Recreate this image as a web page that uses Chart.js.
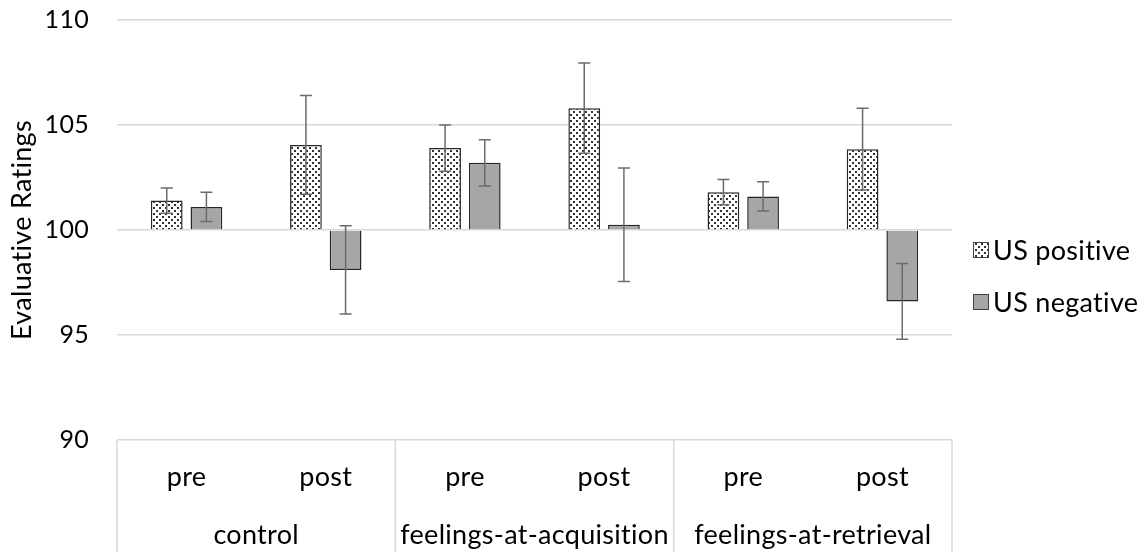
<!DOCTYPE html>
<html>
<head>
<meta charset="utf-8">
<script src="https://cdn.jsdelivr.net/npm/chart.js@4.4.1/dist/chart.umd.min.js"></script>
<style>
  html, body { margin: 0; padding: 0; background: #fff; }
  canvas { display: block; }
</style>
</head>
<body>
<canvas id="ratingsChart" width="1143" height="552"></canvas>
<script>
// Evaluative ratings per condition and phase
var phases = ["pre", "post", "pre", "post", "pre", "post"];
var conditions = ["control", "feelings-at-acquisition", "feelings-at-retrieval"];
var usPositive = [101.4, 104.05, 103.9, 105.8, 101.8, 103.85];
var usNegative = [101.1, 98.1, 103.2, 100.25, 101.6, 96.6];
var errPositive = [0.6, 2.35, 1.1, 2.15, 0.6, 1.95];
var errNegative = [0.7, 2.1, 1.1, 2.7, 0.7, 1.8];
var yTicks = [90, 95, 100, 105, 110];

var gridGrey = "#d9d9d9";
Chart.defaults.font.family = "Lato";
Chart.defaults.font.size = 26;
Chart.defaults.color = "#000";

var canvas = document.getElementById("ratingsChart");
var ctx = canvas.getContext("2d");

// small dotted fill for the positive bars
function dotPattern() {
  var tile = document.createElement("canvas");
  tile.width = 6;
  tile.height = 6;
  var t = tile.getContext("2d");
  t.fillStyle = "#fff";
  t.fillRect(0, 0, 6, 6);
  t.fillStyle = "#333";
  t.fillRect(0, 0, 2, 2);
  t.fillRect(3, 3, 2, 2);
  return ctx.createPattern(tile, "repeat");
}

// slight tracking, also keeps "ti" from turning into a ligature
var textSpacing = {
  id: "textSpacing",
  beforeDraw: function (chart) {
    chart.ctx.letterSpacing = "0.3px";
  }
};

var errorBars = {
  id: "errorBars",
  afterDatasetsDraw: function (chart) {
    var c = chart.ctx;
    var y = chart.scales.y;
    c.save();
    c.strokeStyle = "#6b6b6b";
    c.lineWidth = 1.5;
    chart.data.datasets.forEach(function (ds, di) {
      chart.getDatasetMeta(di).data.forEach(function (bar, i) {
        var top = y.getPixelForValue(ds.data[i] + ds.errors[i]);
        var bot = y.getPixelForValue(ds.data[i] - ds.errors[i]);
        c.beginPath();
        c.moveTo(bar.x, top); c.lineTo(bar.x, bot);
        c.moveTo(bar.x - 6, top); c.lineTo(bar.x + 6, top);
        c.moveTo(bar.x - 6, bot); c.lineTo(bar.x + 6, bot);
        c.stroke();
      });
    });
    c.restore();
  }
};

// table lines under the plot separating the three conditions
var groupBoxes = {
  id: "groupBoxes",
  afterDraw: function (chart) {
    var c = chart.ctx;
    var x = chart.scales.x;
    var area = chart.chartArea;
    var xs = [area.left, area.right];
    for (var i = 2; i < phases.length; i += 2) {
      xs.push((x.getPixelForValue(i - 1) + x.getPixelForValue(i)) / 2);
    }
    c.save();
    c.strokeStyle = gridGrey;
    c.lineWidth = 1.5;
    xs.forEach(function (px) {
      c.beginPath();
      c.moveTo(px, area.bottom);
      c.lineTo(px, chart.height);
      c.stroke();
    });
    c.restore();
  }
};

// legend to the right of the plot
var sideLegend = {
  id: "sideLegend",
  afterDraw: function (chart) {
    var c = chart.ctx;
    var left = chart.chartArea.right + 21;
    var mid = chart.height / 2;
    c.save();
    c.font = "27px Lato";
    c.textBaseline = "middle";
    chart.data.datasets.forEach(function (ds, i) {
      var cy = mid + (i === 0 ? -26 : 26);
      c.fillStyle = ds.backgroundColor;
      c.fillRect(left, cy - 8, 16, 16);
      c.strokeStyle = "#404040";
      c.lineWidth = 1;
      c.strokeRect(left + 0.5, cy - 7.5, 15, 15);
      c.fillStyle = "#000";
      c.fillText(ds.label, left + 20, cy + 1);
    });
    c.restore();
  }
};

// keep axis boxes at fixed sizes
function fixHeight(h) {
  return function (scale) {
    scale.height = h;
    scale.paddingLeft = 0;
    scale.paddingRight = 0;
  };
}

new Chart(ctx, {
  type: "bar",
  data: {
    labels: phases,
    datasets: [
      {
        label: "US positive",
        data: usPositive,
        errors: errPositive,
        base: 100,
        backgroundColor: dotPattern(),
        borderColor: "#262626",
        borderWidth: 1.5
      },
      {
        label: "US negative",
        data: usNegative,
        errors: errNegative,
        base: 100,
        backgroundColor: "#a6a6a6",
        borderColor: "#262626",
        borderWidth: 1.5
      }
    ]
  },
  options: {
    responsive: false,
    animation: false,
    categoryPercentage: 0.57,
    barPercentage: 0.8,
    layout: { padding: { left: 0, right: 191, top: 20, bottom: 1 } },
    plugins: {
      legend: { display: false },
      tooltip: { enabled: false }
    },
    scales: {
      y: {
        min: 90,
        max: 110,
        afterBuildTicks: function (scale) {
          scale.ticks = yTicks.map(function (v) { return { value: v }; });
        },
        afterFit: function (scale) {
          scale.width = 117;
          scale.paddingTop = 0;
          scale.paddingBottom = 0;
        },
        grid: { color: gridGrey, lineWidth: 1.5, drawTicks: false },
        border: { display: false },
        ticks: { padding: 28, font: { size: 25 } },
        title: {
          display: true,
          text: "Evaluative Ratings",
          font: { size: 27 },
          padding: { top: 6, bottom: 0 }
        }
      },
      x: {
        weight: 0,
        offset: true,
        afterFit: fixHeight(53),
        grid: { display: false, drawTicks: false },
        border: { display: false },
        ticks: { padding: 21, autoSkip: false, maxRotation: 0, font: { size: 27 } }
      },
      x2: {
        type: "category",
        labels: conditions,
        position: "bottom",
        weight: 1,
        offset: true,
        afterFit: fixHeight(58),
        grid: { display: false, drawTicks: false },
        border: { display: false },
        ticks: { padding: 26, autoSkip: false, maxRotation: 0, font: { size: 27 } }
      }
    }
  },
  plugins: [textSpacing, errorBars, groupBoxes, sideLegend]
});
</script>
</body>
</html>
